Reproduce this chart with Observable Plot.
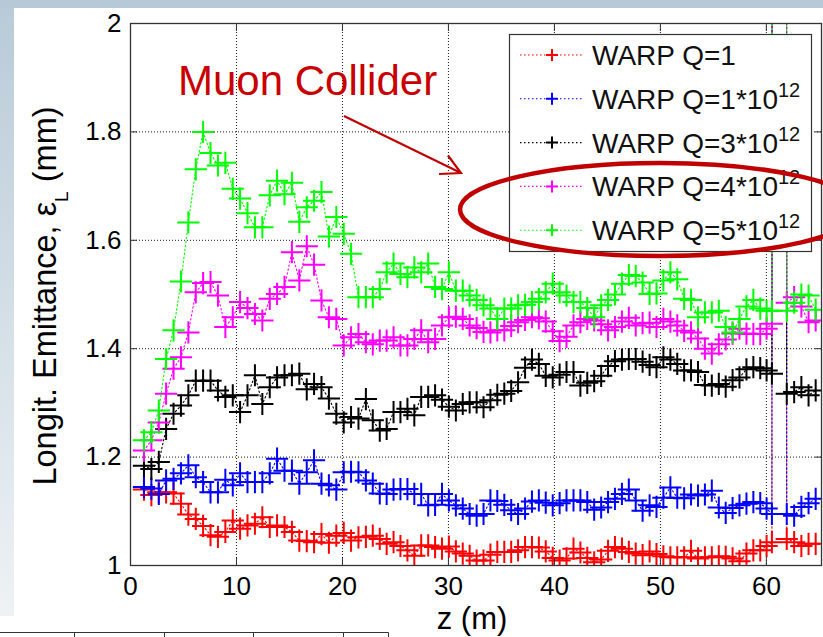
<!DOCTYPE html>
<html><head><meta charset="utf-8">
<script src="https://cdn.jsdelivr.net/npm/d3@7"></script>
<script src="https://cdn.jsdelivr.net/npm/@observablehq/plot@0.6"></script>
<style>
html,body{margin:0;padding:0;background:#fff;}
#wrap{position:relative;width:823px;height:637px;overflow:hidden;background:#fff;font-family:'Liberation Sans',Arial,Helvetica,sans-serif;}
#topbar{position:absolute;left:0;top:0;width:823px;height:8px;background:#b7c9d7;}
#leftbar{position:absolute;left:0;top:8px;width:14px;height:608px;background:linear-gradient(#b9cbd8,#eef2f5);}
#chart{position:absolute;left:0;top:0;}
#ov{position:absolute;left:0;top:0;}
</style></head><body>
<div id="wrap"><div id="topbar"></div><div id="leftbar"></div><div id="chart"></div>
<svg id="ov" width="823" height="637" xmlns="http://www.w3.org/2000/svg"></svg></div>
<script>
// ---- data ----
const z = [1.27,1.97,2.67,3.36,4.06,4.76,5.46,6.16,6.85,7.55,
 8.25,8.95,9.65,10.34,11.04,11.74,12.44,13.14,13.83,14.53,
 15.23,15.93,16.63,17.32,18.02,18.72,19.42,20.12,20.81,21.51,
 22.21,22.86,23.52,24.17,24.82,25.47,26.13,26.78,27.43,28.09,
 28.74,29.39,30.04,30.70,31.35,32.00,32.66,33.31,33.96,34.61,
 35.27,35.92,36.57,37.23,37.88,38.53,39.18,39.84,40.49,41.14,
 41.80,42.45,43.10,43.75,44.41,45.06,45.71,46.37,47.02,47.67,
 48.32,48.98,49.63,50.28,50.94,51.59,52.24,52.89,53.55,54.20,
 54.85,55.51,56.16,56.81,57.46,58.12,58.77,59.42,60.02,60.52,
 61.20,61.92,62.62,63.30,63.98,64.65];

const emitQ1 = [1.140,1.130,1.135,1.135,1.133,1.114,1.094,1.086,1.073,1.056,
 1.053,1.062,1.083,1.068,1.074,1.077,1.089,1.071,1.074,1.071,
 1.062,1.046,1.045,1.043,1.058,1.042,1.055,1.060,1.046,1.052,
 1.053,1.055,1.049,1.040,1.043,1.036,1.028,1.018,1.037,1.037,
 1.034,1.031,1.035,1.026,1.022,1.018,1.009,1.009,1.020,1.025,
 1.025,1.025,1.028,1.034,1.034,1.033,1.026,1.014,1.009,1.013,
 1.031,1.024,1.014,1.006,1.011,1.027,1.034,1.031,1.025,1.022,
 1.019,1.026,1.021,1.017,1.015,1.015,1.015,1.027,1.013,1.015,
 1.015,1.017,1.016,1.013,1.008,1.022,1.028,1.028,1.036,1.043,
 40,1.049,1.043,1.036,1.040,1.040];

const emitQ1e12 = [1.145,1.142,1.132,1.157,1.160,1.170,1.185,1.163,1.154,1.135,
 1.135,1.158,1.148,1.170,1.154,1.154,1.154,1.170,1.197,1.175,
 1.175,1.151,1.172,1.194,1.151,1.148,1.140,1.172,1.173,1.172,
 1.157,1.151,1.133,1.132,1.140,1.141,1.141,1.132,1.132,1.111,
 1.112,1.132,1.120,1.111,1.105,1.095,1.092,1.095,1.120,1.119,
 1.112,1.102,1.095,1.105,1.118,1.120,1.116,1.111,1.115,1.120,
 1.120,1.120,1.117,1.103,1.107,1.117,1.123,1.132,1.140,1.120,
 1.101,1.111,1.108,1.125,1.144,1.125,1.124,1.131,1.129,1.131,
 1.138,1.107,1.097,1.106,1.111,1.114,1.117,1.115,1.105,1.095,
 40,1.095,1.092,1.108,1.115,1.123];

const emitQ3e12 = [1.184,1.178,1.191,1.252,1.280,1.295,1.314,1.341,1.341,1.341,
 1.323,1.311,1.314,1.283,1.314,1.351,1.298,1.329,1.347,1.351,
 1.351,1.354,1.325,1.335,1.329,1.308,1.280,1.264,1.274,1.271,
 1.307,1.268,1.249,1.252,1.283,1.283,1.289,1.277,1.311,1.311,
 1.314,1.306,1.293,1.286,1.298,1.301,1.301,1.292,1.305,1.315,
 1.317,1.322,1.338,1.365,1.380,1.372,1.350,1.347,1.352,1.357,
 1.357,1.332,1.337,1.340,1.350,1.368,1.377,1.380,1.381,1.381,
 1.376,1.370,1.366,1.384,1.380,1.372,1.360,1.360,1.357,1.333,
 1.332,1.335,1.330,1.342,1.347,1.362,1.366,1.364,1.360,1.354,
 40,1.317,1.320,1.329,1.314,1.323];

const emitQ4e12 = [1.212,1.231,1.264,1.317,1.363,1.384,1.430,1.504,1.521,1.523,
 1.498,1.440,1.458,1.486,1.475,1.464,1.452,1.492,1.501,1.514,
 1.578,1.526,1.589,1.555,1.489,1.458,1.455,1.406,1.421,1.427,
 1.412,1.408,1.415,1.415,1.421,1.406,1.406,1.418,1.434,1.412,
 1.418,1.443,1.458,1.459,1.455,1.443,1.438,1.431,1.430,1.434,
 1.434,1.442,1.449,1.453,1.458,1.456,1.450,1.432,1.414,1.422,
 1.443,1.449,1.455,1.452,1.445,1.434,1.440,1.450,1.457,1.443,
 1.447,1.448,1.440,1.455,1.450,1.443,1.433,1.430,1.419,1.400,
 1.391,1.408,1.417,1.428,1.437,1.428,1.427,1.427,1.437,1.446,
 40,1.485,1.495,1.478,1.449,1.452];

const emitQ5e12 = [1.231,1.246,1.286,1.381,1.434,1.524,1.633,1.731,1.800,1.761,
 1.738,1.743,1.695,1.677,1.650,1.624,1.624,1.683,1.710,1.685,
 1.706,1.634,1.661,1.673,1.689,1.607,1.643,1.612,1.575,1.495,
 1.495,1.495,1.510,1.541,1.557,1.538,1.532,1.550,1.541,1.557,
 1.514,1.510,1.541,1.507,1.507,1.498,1.490,1.480,1.474,1.455,
 1.474,1.474,1.480,1.481,1.486,1.492,1.504,1.520,1.504,1.498,
 1.486,1.486,1.475,1.458,1.480,1.490,1.500,1.520,1.536,1.534,
 1.522,1.501,1.502,1.526,1.541,1.528,1.492,1.490,1.458,1.467,
 1.467,1.470,1.440,1.430,1.455,1.478,1.490,1.474,1.470,1.470,
 40,1.470,1.485,1.500,1.498,1.472];

const seriesNames = ["WARP Q=1", "WARP Q=1*10", "WARP Q=3*10", "WARP Q=4*10", "WARP Q=5*10"];
const seriesSup = ["", "12", "12", "12", "12"];
const seriesColors = ["#ff0000", "#0000ff", "#000000", "#ff00ff", "#00ff00"];
const xTicks = [0, 10, 20, 30, 40, 50, 60];
const yTicks = [1, 1.2, 1.4, 1.6, 1.8, 2];
const xLabel = "z (m)";
const yLabelMain = "Longit. Emittance, ε";
const yLabelSub = "L";
const yLabelEnd = " (mm)";
const note = "Muon Collider";

// ---- chart ----
const seriesArrays = [emitQ1, emitQ1e12, emitQ3e12, emitQ4e12, emitQ5e12];
const tables = seriesArrays.map((arr, k) => z.map((zz, i) => ({z: zz, e: arr[i], k})));

const gridStyle = {stroke: "#000", strokeOpacity: 0.9, strokeWidth: 1, strokeDasharray: "1,2"};
const marks = [
  Plot.gridX(xTicks, gridStyle),
  Plot.gridY(yTicks, gridStyle)
];
tables.forEach((data, k) => {
  marks.push(Plot.line(data, {x: "z", y: "e", stroke: seriesColors[k], strokeWidth: 1.1, strokeDasharray: "1.5,2.5", clip: true}));
  marks.push(Plot.dot(data, {x: "z", y: "e", symbol: "plus", r: 7.2, stroke: seriesColors[k], strokeWidth: 2, clip: true}));
});
marks.push(
  Plot.frame({stroke: "#333", strokeWidth: 1.3}),
  Plot.axisX(xTicks, {anchor: "bottom", tickSize: 7, dy: -7, tickFormat: () => "", label: null, stroke: "#333"}),
  Plot.axisX(xTicks, {anchor: "top", tickSize: 7, dy: 7, tickFormat: () => "", label: null, stroke: "#333"}),
  Plot.axisY(yTicks, {anchor: "left", tickSize: 7, dx: 7, tickFormat: () => "", label: null, stroke: "#333"}),
  Plot.axisY(yTicks, {anchor: "right", tickSize: 7, dx: -7, tickFormat: () => "", label: null, stroke: "#333"}),
  Plot.axisX(xTicks, {anchor: "bottom", tickSize: 0, tickPadding: 11, tickFormat: d => String(d), label: null, fontSize: 26, fill: "#000"}),
  Plot.axisY(yTicks, {anchor: "left", tickSize: 0, tickPadding: 9, tickFormat: d => String(d), label: null, fontSize: 26, fill: "#000"})
);

const chart = Plot.plot({
  width: 823, height: 637,
  marginLeft: 130, marginRight: 2, marginTop: 23, marginBottom: 72,
  x: {domain: [0, 65.2], label: null},
  y: {domain: [1, 2], label: null},
  style: {background: "transparent", fontFamily: "'Liberation Sans', Arial, Helvetica, sans-serif", color: "#000", overflow: "visible"},
  marks
});
document.getElementById("chart").appendChild(chart);

// ---- overlay: labels, legend, annotation ----
const ov = d3.select("#ov");
const FONT = "'Liberation Sans', Arial, Helvetica, sans-serif";
ov.attr("font-family", FONT);

// bottom table edge (slide decoration)
ov.append("path")
  .attr("d", "M0,632.5H388.5M74.5,632.5V637M164.5,632.5V637M253.5,632.5V637M343.5,632.5V637M388.5,632.5V637")
  .attr("stroke", "#333").attr("fill", "none").attr("stroke-width", 1);

// axis labels
ov.append("text").attr("x", 472).attr("y", 629).attr("text-anchor", "middle")
  .attr("font-size", 31).attr("fill", "#000").text(xLabel);
const yl = ov.append("text").attr("transform", "translate(56,296) rotate(-90)")
  .attr("text-anchor", "middle").attr("font-size", 32.5).attr("fill", "#000");
yl.append("tspan").text(yLabelMain);
yl.append("tspan").attr("font-size", 19).attr("dy", 12).text(yLabelSub);
yl.append("tspan").attr("dy", -12).text(yLabelEnd);

// legend
const lg = ov.append("g");
lg.append("rect").attr("x", 509.5).attr("y", 34.5).attr("width", 302).attr("height", 217)
  .attr("fill", "#fff").attr("stroke", "#333").attr("stroke-width", 1.2);
seriesNames.forEach((name, i) => {
  const by = 65 + i * 43.8;
  const c = seriesColors[i];
  lg.append("line").attr("x1", 520).attr("x2", 583).attr("y1", by - 10).attr("y2", by - 10)
    .attr("stroke", c).attr("stroke-width", 1.1).attr("stroke-dasharray", "1.5,2.5");
  lg.append("path").attr("d", `M546,${by - 10}h12M552,${by - 16}v12`)
    .attr("stroke", c).attr("stroke-width", 2).attr("fill", "none");
  const t = lg.append("text").attr("x", 592).attr("y", by).attr("font-size", 28).attr("fill", "#111");
  t.append("tspan").text(name);
  if (seriesSup[i]) t.append("tspan").attr("font-size", 20).attr("dy", -12).text(seriesSup[i]);
});

// annotation
ov.append("text").attr("x", 178).attr("y", 95).attr("font-size", 42).attr("fill", "#c80000").text(note);
ov.append("path").attr("d", "M344,116L461,173M439,174L461,173L448,155.5")
  .attr("stroke", "#c00000").attr("stroke-width", 2.2).attr("fill", "none");
ov.append("ellipse").attr("cx", 660).attr("cy", 209.5).attr("rx", 200).attr("ry", 46.5)
  .attr("fill", "none").attr("stroke", "#c00000").attr("stroke-width", 4.5);
</script>
</body></html>
